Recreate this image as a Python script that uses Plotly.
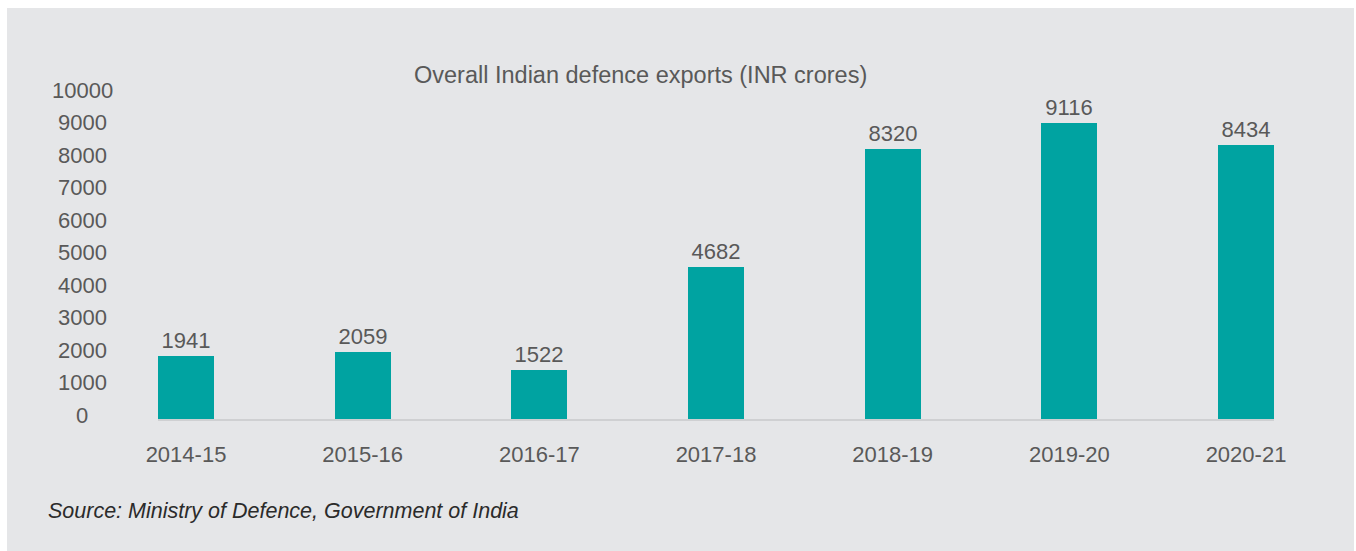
import plotly.graph_objects as go

categories = ["2014-15", "2015-16", "2016-17", "2017-18", "2018-19", "2019-20", "2020-21"]
exports = [1941, 2059, 1522, 4682, 8320, 9116, 8434]
y_ticks = [0, 1000, 2000, 3000, 4000, 5000, 6000, 7000, 8000, 9000, 10000]

title_text = "Overall Indian defence exports (INR crores)"
source_text = "Source: Ministry of Defence, Government of India"

W, H = 1356, 551
L, R = 158, 1274          # plot area in pixels
T, B = 94, 419
BAR_W = 0.317

BG = "#E5E6E8"
TEAL = "#00A3A1"
TXT = "#595959"
FONT = "Liberation Sans, Arial, sans-serif"


def px_x(p):
    return (p - L) / (R - L)


def px_y(p):
    return (B - p) / (B - T)


fig = go.Figure()
fig.add_trace(go.Bar(
    x=categories,
    y=exports,
    width=BAR_W,
    marker=dict(color=TEAL, line=dict(width=0)),
    text=[str(v) for v in exports],
    textposition="outside",
    textfont=dict(family=FONT, size=22, color=TXT),
    constraintext="none",
    cliponaxis=False,
    hoverinfo="x+y",
))

annotations = []
for t in y_ticks:
    annotations.append(dict(
        x=px_x(82), xref="paper", y=t, yref="y", text=str(t),
        showarrow=False, xanchor="center", yanchor="middle", yshift=4,
        font=dict(family=FONT, size=22, color=TXT),
    ))
annotations.append(dict(
    x=px_x(640), xref="paper", y=px_y(75), yref="paper", text=title_text,
    showarrow=False, xanchor="center", yanchor="middle",
    font=dict(family=FONT, size=23.5, color=TXT),
))
annotations.append(dict(
    x=px_x(46), xref="paper", y=px_y(511), yref="paper",
    text="<i>" + source_text + "</i>",
    showarrow=False, xanchor="left", yanchor="middle",
    font=dict(family=FONT, size=21.5, color="#2b2b2b"),
))

fig.update_layout(
    width=W, height=H,
    margin=dict(l=L, r=W - R, t=T, b=H - B, pad=0),
    paper_bgcolor="white",
    plot_bgcolor=BG,
    showlegend=False,
    bargap=0,
    annotations=annotations,
    shapes=[dict(
        type="rect", xref="paper", yref="paper", layer="below",
        x0=px_x(7), x1=px_x(1354), y0=px_y(551), y1=px_y(8),
        fillcolor=BG, line=dict(width=0),
    )],
    xaxis=dict(
        range=[-BAR_W / 2, len(categories) - 1 + BAR_W / 2],
        showgrid=False, zeroline=False,
        showline=True, linecolor="#CFD0D2", linewidth=2,
        ticks="outside", ticklen=15, tickcolor="rgba(0,0,0,0)",
        tickfont=dict(family=FONT, size=22, color=TXT),
        fixedrange=True,
    ),
    yaxis=dict(
        range=[0, 10000],
        showgrid=False, zeroline=False, showline=False,
        showticklabels=False, fixedrange=True,
    ),
)

fig.write_html("out.html", config={"displayModeBar": False})
